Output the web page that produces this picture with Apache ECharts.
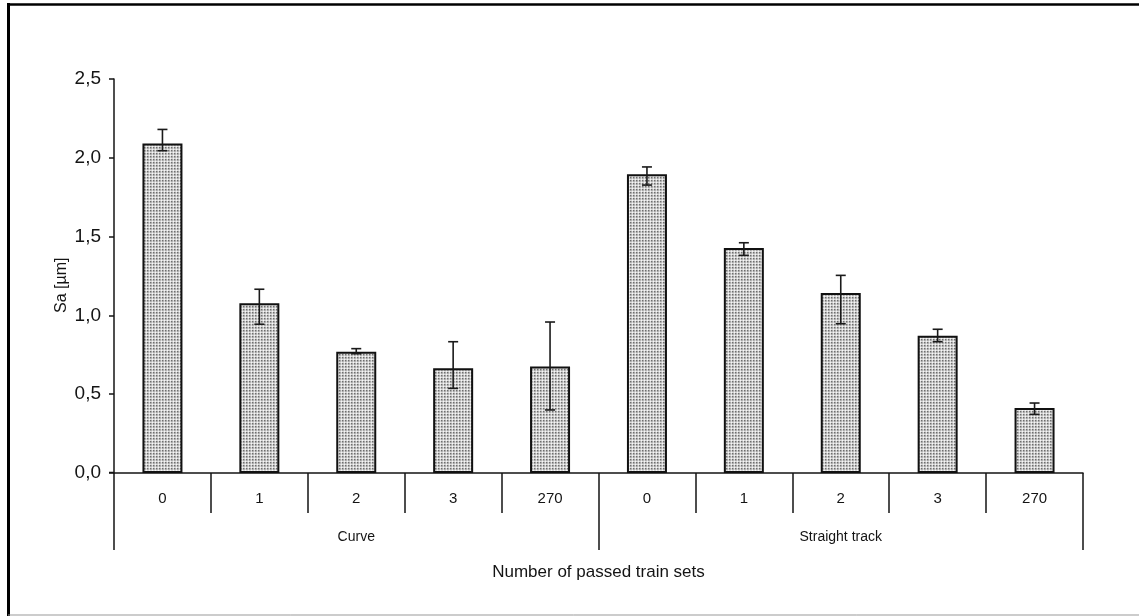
<!DOCTYPE html>
<html>
<head>
<meta charset="utf-8">
<script src="https://cdn.jsdelivr.net/npm/echarts@6/dist/echarts.min.js"></script>
<style>
html,body{margin:0;padding:0;background:#fff;}
#chart{width:1139px;height:616px;}
</style>
</head>
<body>
<div id="chart"></div>
<script>
// ---- data ----
var categories = ['0', '1', '2', '3', '270', '0', '1', '2', '3', '270'];
var groups = ['Curve', 'Straight track'];
var sa = [2.09, 1.077, 0.77, 0.664, 0.675, 1.895, 1.428, 1.142, 0.871, 0.412];
var errLow = [2.045, 0.944, 0.757, 0.537, 0.400, 1.827, 1.381, 0.947, 0.833, 0.372];
var errHigh = [2.18, 1.166, 0.789, 0.833, 0.958, 1.942, 1.461, 1.254, 0.912, 0.444];
var yTicks = [0, 0.5, 1.0, 1.5, 2.0, 2.5];

// ---- dotted fill pattern ----
var tile = document.createElement('canvas');
tile.width = 3; tile.height = 3;
var tc = tile.getContext('2d');
var px = [
  ['#6e6e6e', '#a4a4a4', '#dadada'],
  ['#a4a4a4', '#b6b6b6', '#dadada'],
  ['#dadada', '#dadada', '#f6f6f6']
];
for (var r = 0; r < 3; r++) for (var c = 0; c < 3; c++) { tc.fillStyle = px[r][c]; tc.fillRect(c, r, 1, 1); }

var errData = categories.map(function (_, i) { return [i, errLow[i], errHigh[i]]; });

var chart = echarts.init(document.getElementById('chart'), null, { renderer: 'canvas' });
var font = 'Liberation Sans, Arial, sans-serif';
var ink = '#141414';

chart.setOption({
  animation: false,
  backgroundColor: '#fff',
  grid: { left: 114, right: 56, top: 79, bottom: 143 },
  xAxis: [
    {
      type: 'category',
      data: categories,
      position: 'bottom',
      axisLine: { show: true, lineStyle: { color: ink, width: 1.5 } },
      axisTick: { show: true, length: 40, lineStyle: { color: ink, width: 1.5 } },
      axisLabel: { margin: 18, fontSize: 15, color: ink, fontFamily: font, interval: 0 },
      name: 'Number of passed train sets',
      nameLocation: 'middle',
      nameGap: 91,
      nameTextStyle: { fontSize: 17, color: ink, fontFamily: font }
    },
    {
      type: 'category',
      data: groups,
      position: 'bottom',
      gridIndex: 0,
      axisLine: { show: false },
      axisTick: { show: true, length: 77, lineStyle: { color: ink, width: 1.5 } },
      axisLabel: { margin: 57, fontSize: 14, color: ink, fontFamily: font }
    }
  ],
  yAxis: {
    type: 'value',
    min: 0,
    max: 2.5,
    interval: 0.5,
    axisLine: { show: true, lineStyle: { color: ink, width: 1.5 } },
    axisTick: { show: true, length: 5, lineStyle: { color: ink, width: 1.5 } },
    splitLine: { show: false },
    axisLabel: {
      margin: 13, fontSize: 19, color: ink, fontFamily: font,
      formatter: function (v) { return v.toFixed(1).replace('.', ','); }
    }
  },
  graphic: [
    { type: 'text', rotation: Math.PI / 2, style: { text: 'Sa [µm]', fontSize: 16, fill: ink, fontFamily: font }, x: 54, y: 313 },
    { type: 'line', shape: { x1: 109, y1: 472.5, x2: 114, y2: 472.5 }, style: { stroke: ink, lineWidth: 1.5 } },
    { type: 'line', shape: { x1: 8.5, y1: 3, x2: 8.5, y2: 616 }, style: { stroke: '#000', lineWidth: 3 } },
    { type: 'line', shape: { x1: 7, y1: 4.5, x2: 1139, y2: 4.5 }, style: { stroke: '#000', lineWidth: 2.5 } },
    { type: 'line', shape: { x1: 8, y1: 615, x2: 1139, y2: 615 }, style: { stroke: '#999', lineWidth: 1 } }
  ],
  series: [
    {
      type: 'bar',
      data: sa,
      barWidth: 40,
      itemStyle: {
        color: { image: tile, repeat: 'repeat' },
        borderColor: '#111',
        borderWidth: 2
      }
    },
    {
      type: 'custom',
      data: errData,
      z: 5,
      renderItem: function (params, api) {
        var x = api.value(0);
        var lo = api.coord([x, api.value(1)]);
        var hi = api.coord([x, api.value(2)]);
        var cap = 5;
        var st = { stroke: '#1a1a1a', lineWidth: 1.6 };
        return {
          type: 'group',
          children: [
            { type: 'line', shape: { x1: lo[0], y1: lo[1], x2: hi[0], y2: hi[1] }, style: st },
            { type: 'line', shape: { x1: hi[0] - cap, y1: hi[1], x2: hi[0] + cap, y2: hi[1] }, style: st },
            { type: 'line', shape: { x1: lo[0] - cap, y1: lo[1], x2: lo[0] + cap, y2: lo[1] }, style: st }
          ]
        };
      }
    }
  ]
});
</script>
</body>
</html>
